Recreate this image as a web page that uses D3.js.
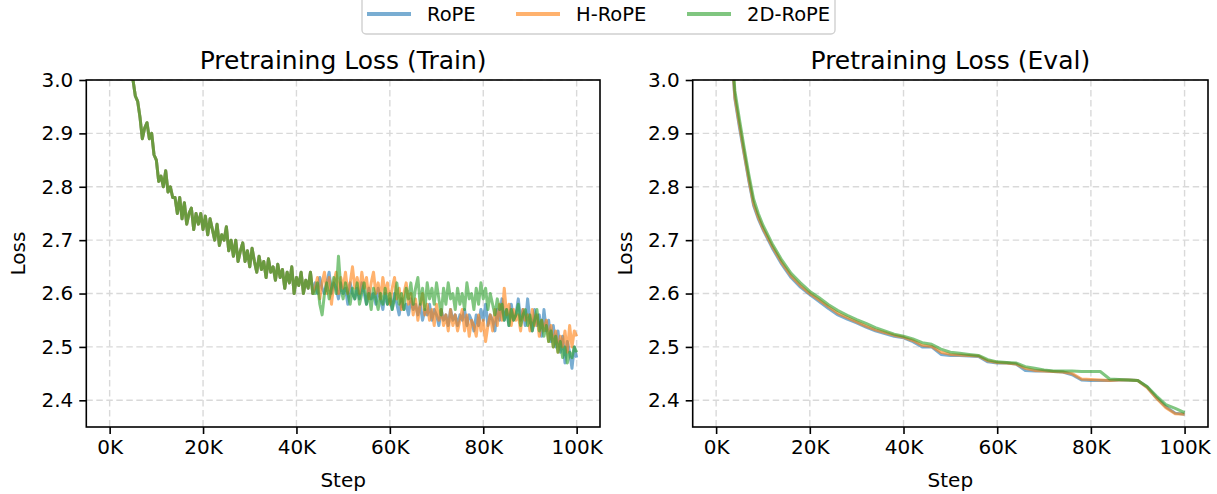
<!DOCTYPE html>
<html>
<head>
<meta charset="utf-8">
<script src="https://cdn.jsdelivr.net/npm/d3@7"></script>
<style>
  body { margin: 0; background: #fff; }
  svg text { font-family: "DejaVu Sans", sans-serif; fill: #000; }
</style>
</head>
<body>
<script>
// train steps in thousands, every 0.5K from 4K to 100K
const trainSteps = d3.range(8, 201).map((d) => d / 2);
// shared part of the train curves (4K..43.5K), the runs overlap here
const trainEarly = [3.08, 3.04, 3.00, 2.97, 2.96, 2.93, 2.89, 2.91, 2.92, 2.89,
  2.90, 2.86, 2.85, 2.81, 2.82, 2.80, 2.83, 2.79, 2.80, 2.78,
  2.78, 2.75, 2.78, 2.74, 2.77, 2.73, 2.75, 2.76, 2.72, 2.75,
  2.73, 2.75, 2.72, 2.745, 2.71, 2.74, 2.72, 2.70, 2.73, 2.69,
  2.71, 2.70, 2.725, 2.68, 2.70, 2.67, 2.70, 2.66, 2.68, 2.695,
  2.66, 2.68, 2.65, 2.685, 2.66, 2.64, 2.67, 2.645, 2.66, 2.63,
  2.665, 2.64, 2.65, 2.625, 2.655, 2.63, 2.645, 2.61, 2.64, 2.62,
  2.65, 2.60, 2.63, 2.615, 2.64, 2.60, 2.625, 2.61, 2.64, 2.60];
// 44K..100K
const ropeTrainTail = [2.62, 2.60, 2.63, 2.61, 2.60, 2.62, 2.64, 2.60, 2.62, 2.61,
  2.59, 2.62, 2.60, 2.61, 2.58, 2.62, 2.60, 2.59, 2.61, 2.59,
  2.62, 2.60, 2.58, 2.61, 2.59, 2.60, 2.58, 2.61, 2.59, 2.57,
  2.60, 2.58, 2.59, 2.57, 2.60, 2.58, 2.56, 2.59, 2.57, 2.58,
  2.56, 2.59, 2.57, 2.58, 2.56, 2.58, 2.55, 2.57, 2.56, 2.58,
  2.55, 2.57, 2.56, 2.54, 2.57, 2.55, 2.56, 2.54, 2.57, 2.55,
  2.56, 2.54, 2.56, 2.55, 2.57, 2.54, 2.56, 2.55, 2.53, 2.56,
  2.54, 2.57, 2.55, 2.58, 2.54, 2.56, 2.55, 2.53, 2.57, 2.55,
  2.59, 2.55, 2.57, 2.54, 2.58, 2.55, 2.56, 2.59, 2.55, 2.57,
  2.54, 2.59, 2.55, 2.53, 2.57, 2.54, 2.56, 2.52, 2.57, 2.53,
  2.55, 2.51, 2.54, 2.50, 2.53, 2.49, 2.52, 2.47, 2.51, 2.49,
  2.46, 2.50, 2.48];
const hropeTrainTail = [2.61, 2.63, 2.59, 2.62, 2.64, 2.60, 2.63, 2.58, 2.62, 2.64,
  2.60, 2.63, 2.61, 2.64, 2.60, 2.62, 2.65, 2.61, 2.63, 2.60,
  2.64, 2.61, 2.63, 2.59, 2.62, 2.64, 2.60, 2.62, 2.59, 2.63,
  2.60, 2.62, 2.58, 2.61, 2.63, 2.59, 2.61, 2.57, 2.60, 2.62,
  2.58, 2.60, 2.56, 2.59, 2.55, 2.58, 2.60, 2.56, 2.58, 2.55,
  2.57, 2.54, 2.58, 2.55, 2.57, 2.54, 2.56, 2.53, 2.57, 2.54,
  2.56, 2.53, 2.55, 2.57, 2.53, 2.56, 2.52, 2.55, 2.54, 2.52,
  2.56, 2.53, 2.55, 2.51, 2.54, 2.56, 2.53, 2.57, 2.54, 2.58,
  2.55, 2.61, 2.56, 2.58, 2.54, 2.57, 2.55, 2.56, 2.53, 2.57,
  2.55, 2.56, 2.53, 2.57, 2.54, 2.56, 2.52, 2.55, 2.53, 2.55,
  2.51, 2.54, 2.50, 2.53, 2.49, 2.52, 2.50, 2.53, 2.49, 2.54,
  2.50, 2.53, 2.52];
const rope2dTrainTail = [2.60, 2.62, 2.58, 2.56, 2.60, 2.62, 2.59, 2.61, 2.63, 2.60,
  2.67, 2.61, 2.59, 2.62, 2.60, 2.58, 2.61, 2.59, 2.62, 2.58,
  2.60, 2.62, 2.58, 2.60, 2.57, 2.61, 2.59, 2.57, 2.60, 2.58,
  2.61, 2.58, 2.60, 2.57, 2.59, 2.62, 2.58, 2.60, 2.57, 2.61,
  2.59, 2.62, 2.58, 2.61, 2.63, 2.58, 2.61, 2.57, 2.62, 2.59,
  2.61, 2.58, 2.62, 2.59, 2.56, 2.61, 2.58, 2.62, 2.59, 2.60,
  2.57, 2.61, 2.58, 2.60, 2.57, 2.62, 2.59, 2.60, 2.57, 2.61,
  2.58, 2.62, 2.59, 2.61, 2.57, 2.60, 2.58, 2.56, 2.59, 2.57,
  2.58, 2.55, 2.57, 2.54, 2.57, 2.55, 2.56, 2.58, 2.54, 2.56,
  2.57, 2.54, 2.56, 2.53, 2.55, 2.57, 2.53, 2.55, 2.52, 2.54,
  2.51, 2.53, 2.50, 2.52, 2.49, 2.51, 2.48, 2.50, 2.47, 2.49,
  2.48, 2.50, 2.49];

const evalSteps = [3, 4, 5, 6, 7, 8, 9, 10, 12, 14, 16, 18, 20, 22, 24, 26, 28, 30,
  32, 34, 36, 38, 40, 42, 44, 46, 48, 50, 52, 54, 56, 58, 60, 62, 64, 66, 68, 70,
  72, 74, 76, 78, 80, 82, 84, 86, 88, 90, 92, 94, 96, 98, 100];
const ropeEval = [3.09, 2.965, 2.91, 2.86, 2.81, 2.765, 2.74, 2.72, 2.685, 2.655,
  2.63, 2.612, 2.598, 2.585, 2.572, 2.56, 2.552, 2.545, 2.537, 2.53, 2.525, 2.52,
  2.517, 2.51, 2.50, 2.50, 2.486, 2.484, 2.484, 2.483, 2.482, 2.472, 2.47, 2.47,
  2.468, 2.456, 2.455, 2.455, 2.454, 2.453, 2.448, 2.438, 2.437, 2.437, 2.437,
  2.438, 2.438, 2.437, 2.425, 2.405, 2.388, 2.376, 2.374];
const hropeEval = [3.095, 2.968, 2.915, 2.863, 2.813, 2.768, 2.743, 2.722, 2.688, 2.658,
  2.633, 2.615, 2.60, 2.588, 2.575, 2.563, 2.555, 2.547, 2.539, 2.532, 2.527, 2.522,
  2.518, 2.512, 2.503, 2.501, 2.49, 2.486, 2.485, 2.484, 2.483, 2.474, 2.471, 2.47,
  2.468, 2.46, 2.456, 2.455, 2.454, 2.453, 2.45, 2.44, 2.439, 2.438, 2.437,
  2.438, 2.438, 2.437, 2.424, 2.404, 2.386, 2.375, 2.374];
const rope2dEval = [3.105, 2.98, 2.925, 2.872, 2.822, 2.777, 2.75, 2.728, 2.693, 2.663,
  2.638, 2.62, 2.604, 2.592, 2.579, 2.568, 2.559, 2.551, 2.544, 2.536, 2.53, 2.524,
  2.52, 2.515, 2.508, 2.505, 2.496, 2.49, 2.488, 2.486, 2.484, 2.476, 2.472, 2.471,
  2.47, 2.463, 2.46, 2.457, 2.455, 2.455, 2.455, 2.454, 2.454, 2.454, 2.44,
  2.439, 2.438, 2.437, 2.426, 2.408, 2.392, 2.385, 2.377];

const seriesNames = ["RoPE", "H-RoPE", "2D-RoPE"];
const colors = ["#1f77b4", "#ff7f0e", "#2ca02c"];
const xTicks = [0, 20, 40, 60, 80, 100];
const yTicks = [2.4, 2.5, 2.6, 2.7, 2.8, 2.9, 3.0];

const trainSeries = [
  trainEarly.concat(ropeTrainTail),
  trainEarly.concat(hropeTrainTail),
  trainEarly.concat(rope2dTrainTail)
];
const evalSeries = [ropeEval, hropeEval, rope2dEval];

const width = 1217;
const height = 494;
const svg = d3.select("body").append("svg")
  .attr("width", width)
  .attr("height", height);

const plotTop = 80;
const plotBottom = 427;

const drawPanel = (left, right, title, steps, series, id, lw) => {
  const x = d3.scaleLinear().domain([-5, 105]).range([left, right]);
  const y = d3.scaleLinear().domain([2.35, 3.0]).range([plotBottom, plotTop]);
  const g = svg.append("g");

  // grid
  g.selectAll(".gx").data(xTicks).enter().append("line")
    .attr("x1", (d) => x(d)).attr("x2", (d) => x(d))
    .attr("y1", plotTop).attr("y2", plotBottom)
    .attr("stroke", "#d9d9d9").attr("stroke-width", 1.4)
    .attr("stroke-dasharray", "6.5,3.5");
  g.selectAll(".gy").data(yTicks).enter().append("line")
    .attr("x1", left).attr("x2", right)
    .attr("y1", (d) => y(d)).attr("y2", (d) => y(d))
    .attr("stroke", "#d9d9d9").attr("stroke-width", 1.4)
    .attr("stroke-dasharray", "6.5,3.5");

  svg.append("clipPath").attr("id", id)
    .append("rect").attr("x", left).attr("y", plotTop)
    .attr("width", right - left).attr("height", plotBottom - plotTop);

  const line = d3.line().x((d, i) => x(steps[i])).y((d) => y(d));
  g.append("g").attr("clip-path", "url(#" + id + ")")
    .selectAll("path").data(series).enter().append("path")
    .attr("d", (d) => line(d))
    .attr("fill", "none")
    .attr("stroke", (d, i) => colors[i])
    .attr("stroke-width", lw)
    .attr("stroke-opacity", 0.6)
    .attr("stroke-linejoin", "round");

  // frame
  g.append("rect").attr("x", left).attr("y", plotTop)
    .attr("width", right - left).attr("height", plotBottom - plotTop)
    .attr("fill", "none").attr("stroke", "#000").attr("stroke-width", 1.6);

  const xAxis = d3.axisBottom(x).tickValues(xTicks)
    .tickFormat((d) => d + "K").tickSize(7).tickPadding(6);
  g.append("g").attr("transform", "translate(0," + plotBottom + ")").call(xAxis)
    .call((a) => a.select(".domain").remove())
    .call((a) => a.selectAll("line").attr("stroke-width", 1.6))
    .call((a) => a.selectAll("text").attr("font-size", 20)
      .attr("font-family", "DejaVu Sans"));

  const yAxis = d3.axisLeft(y).tickValues(yTicks)
    .tickFormat(d3.format(".1f")).tickSize(7).tickPadding(6);
  g.append("g").attr("transform", "translate(" + left + ",0)").call(yAxis)
    .call((a) => a.select(".domain").remove())
    .call((a) => a.selectAll("line").attr("stroke-width", 1.6))
    .call((a) => a.selectAll("text").attr("font-size", 20)
      .attr("font-family", "DejaVu Sans"));

  g.append("text").attr("x", (left + right) / 2).attr("y", 69)
    .attr("text-anchor", "middle").attr("font-size", 25).text(title);
  g.append("text").attr("x", (left + right) / 2).attr("y", 487)
    .attr("text-anchor", "middle").attr("font-size", 20).text("Step");
  g.append("text")
    .attr("transform", "translate(" + (left - 61) + "," + (plotTop + plotBottom) / 2 + ") rotate(-90)")
    .attr("text-anchor", "middle").attr("font-size", 20).text("Loss");
};

drawPanel(86.3, 600, "Pretraining Loss (Train)", trainSteps, trainSeries, "clipTrain", 3);
drawPanel(692.7, 1208, "Pretraining Loss (Eval)", evalSteps, evalSeries, "clipEval", 3);

// legend
const legend = svg.append("g");
legend.append("rect").attr("x", 362).attr("y", -4).attr("width", 473).attr("height", 38)
  .attr("rx", 4).attr("fill", "#fff").attr("stroke", "#d0d0d0").attr("stroke-width", 1.4);
const legendX = [367, 516, 687];
seriesNames.forEach((name, i) => {
  legend.append("line").attr("x1", legendX[i]).attr("x2", legendX[i] + 44)
    .attr("y1", 14).attr("y2", 14)
    .attr("stroke", colors[i]).attr("stroke-width", 4).attr("stroke-opacity", 0.6);
  legend.append("text").attr("x", legendX[i] + 60).attr("y", 21)
    .attr("font-size", 19.5).text(name);
});
</script>
</body>
</html>
